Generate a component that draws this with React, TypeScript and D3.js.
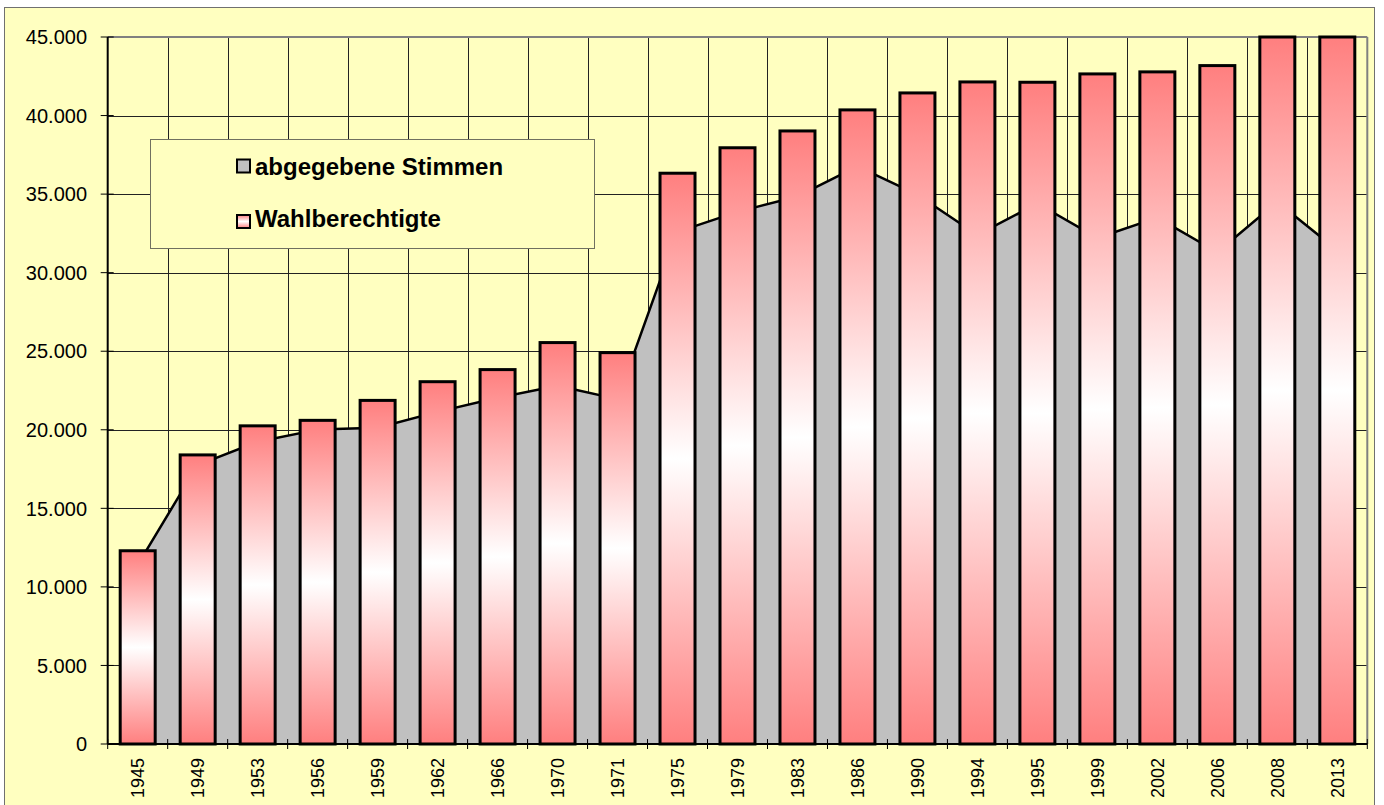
import React from 'react';
import * as d3 from 'd3';

const years = ['1945','1949','1953','1956','1959','1962','1966','1970','1971','1975','1979','1983','1986','1990','1994','1995','1999','2002','2006','2008','2013'];
const wahlberechtigte = [12300, 18400, 20250, 20600, 21870, 23060, 23830, 25550, 24910, 36330, 37950, 39020, 40360, 41440, 42140, 42120, 42650, 42780, 43180, 45000, 45000];
const abgegebeneStimmen = [11400, 17750, 19240, 20010, 20130, 21140, 22040, 22800, 21950, 32600, 33870, 34850, 36760, 34960, 32400, 34400, 32210, 33500, 31300, 34500, 31430];
const yTicks = [0, 5000, 10000, 15000, 20000, 25000, 30000, 35000, 40000, 45000];
const legendLabels = ['abgegebene Stimmen', 'Wahlberechtigte'];

const W = 1384, H = 805;
const plot = { left: 107.7, right: 1367.3, top: 37, bottom: 744 };
const BG = '#FFFFC0';
const FONT = '"Liberation Sans", Arial, sans-serif';

const de = d3.formatLocale({ decimal: ',', thousands: '.', grouping: [3], currency: ['', '€'] });
const fmt = de.format(',');

export default function App() {
  const x = d3.scaleBand<string>().domain(years).range([plot.left, plot.right]).padding(0);
  const bw = x.bandwidth();
  const barW = bw * 0.5833;
  const yMax = yTicks[yTicks.length - 1];
  const y = d3.scaleLinear().domain([0, yMax]).range([plot.bottom, plot.top]);

  const pts = years.map((yr, i) => ({ cx: (x(yr) as number) + bw / 2, v: abgegebeneStimmen[i] }));
  const areaGen = d3.area<{ cx: number; v: number }>().x(d => d.cx).y0(y(0)).y1(d => y(d.v));
  const lineGen = d3.line<{ cx: number; v: number }>().x(d => d.cx).y(d => y(d.v));

  const boundaries = years.map((_, i) => plot.left + i * bw).concat([plot.right]);

  return (
    <svg width={W} height={H} style={{ position: 'absolute', left: 0, top: 0, background: '#fff' }} fontFamily={FONT}>
      <defs>
        <linearGradient id="barGrad" x1="0" y1="0" x2="0" y2="1">
          <stop offset="0%" stopColor="#FF7F7F" />
          <stop offset="50%" stopColor="#FFFFFF" />
          <stop offset="100%" stopColor="#FF7F7F" />
        </linearGradient>
      </defs>
      <rect x={4.5} y={7.5} width={1370} height={800} fill={BG} stroke="#707070" strokeWidth={1} />

      {yTicks.slice(1, -1).map(t => (
        <line key={'h' + t} x1={plot.left} x2={plot.right} y1={Math.round(y(t)) + 0.5} y2={Math.round(y(t)) + 0.5} stroke="#222" strokeWidth={1} />
      ))}
      {boundaries.slice(1, -1).map((b, i) => (
        <line key={'v' + i} x1={Math.round(b) + 0.5} x2={Math.round(b) + 0.5} y1={plot.top} y2={plot.bottom} stroke="#222" strokeWidth={1} />
      ))}

      <line x1={plot.left} x2={plot.right} y1={plot.top} y2={plot.top} stroke="#808080" strokeWidth={2} />
      <line x1={plot.right} x2={plot.right} y1={plot.top} y2={plot.bottom} stroke="#808080" strokeWidth={2} />

      <path d={areaGen(pts) || ''} fill="#C0C0C0" stroke="none" />
      <path d={lineGen(pts) || ''} fill="none" stroke="#000" strokeWidth={2.5} strokeLinejoin="round" />

      {years.map((yr, i) => {
        const v = Math.min(wahlberechtigte[i], yMax);
        const bx = (x(yr) as number) + (bw - barW) / 2;
        return (
          <rect key={'b' + yr} x={bx} y={y(v)} width={barW} height={y(0) - y(v)} fill="url(#barGrad)" stroke="#000" strokeWidth={3} />
        );
      })}

      <line x1={plot.left} x2={plot.left} y1={plot.top} y2={plot.bottom} stroke="#000" strokeWidth={2} />
      <line x1={plot.left} x2={plot.right} y1={plot.bottom} y2={plot.bottom} stroke="#000" strokeWidth={2} />
      {yTicks.map(t => (
        <g key={'yt' + t}>
          <line x1={plot.left - 7} x2={plot.left + 6} y1={y(t)} y2={y(t)} stroke="#000" strokeWidth={1} />
          <text x={87} y={y(t)} dy="0.36em" textAnchor="end" fontSize={20} fill="#000">{fmt(t)}</text>
        </g>
      ))}
      {boundaries.map((b, i) => (
        <line key={'xt' + i} x1={b} x2={b} y1={plot.bottom - 5} y2={plot.bottom + 5} stroke="#000" strokeWidth={1} />
      ))}
      {years.map(yr => {
        const cx = (x(yr) as number) + bw / 2;
        return (
          <text key={'xl' + yr} transform={`translate(${cx},758) rotate(-90)`} dy="0.36em" textAnchor="end" fontSize={18} fill="#000">{yr}</text>
        );
      })}

      <rect x={150.5} y={139.5} width={444} height={109} fill={BG} stroke="#707060" strokeWidth={1} />
      <rect x={237} y={159.5} width={13} height={13} fill="#C0C0C0" stroke="#000" strokeWidth={2} />
      <text x={255} y={175} fontSize={24} fontWeight="bold" fill="#000">{legendLabels[0]}</text>
      <rect x={237} y={215} width={13} height={13} fill="url(#barGrad)" stroke="#000" strokeWidth={2} />
      <text x={255} y={227} fontSize={24} fontWeight="bold" fill="#000">{legendLabels[1]}</text>
    </svg>
  );
}
